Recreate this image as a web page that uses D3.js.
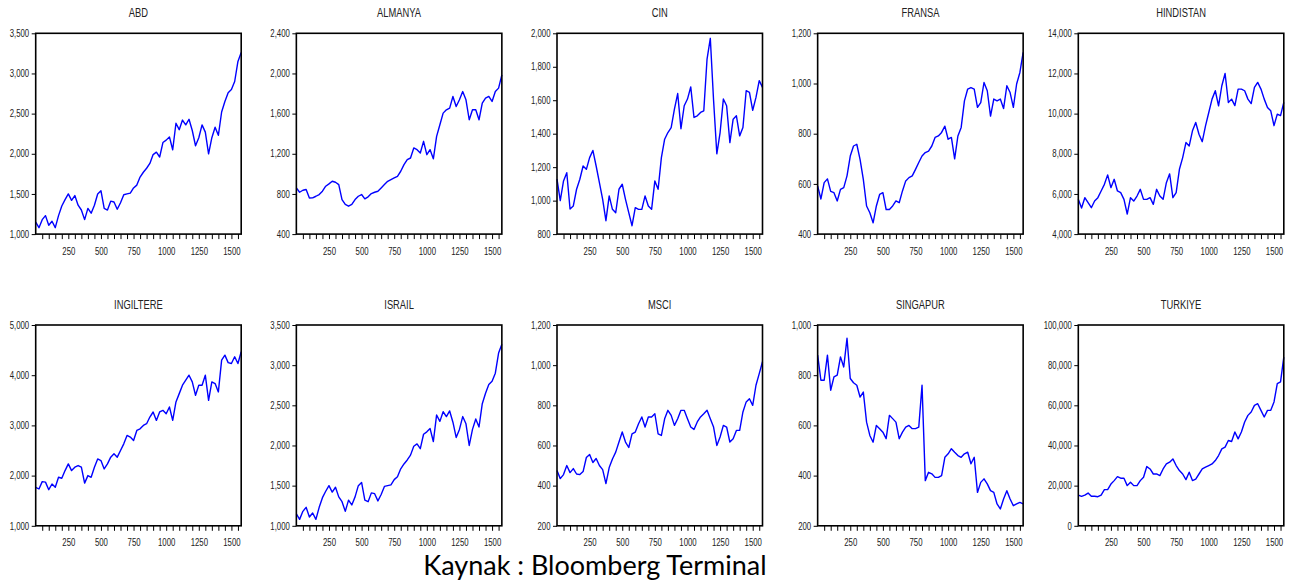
<!DOCTYPE html>
<html>
<head>
<meta charset="utf-8">
<script src="https://cdn.jsdelivr.net/npm/d3@7"></script>
<style>
  body { margin: 0; background: #fff; }
</style>
</head>
<body>
<div id="chart"></div>
<script>
// Readings taken every 25 observations (0, 25, ... 1575)
const step = 25;
const lastObs = 1575;

const abd = [1150, 1080, 1180, 1230, 1110, 1160, 1080, 1230, 1350, 1430,
    1500, 1420, 1480, 1360, 1300, 1180, 1320, 1260, 1360, 1500,
    1540, 1320, 1300, 1410, 1400, 1310, 1390, 1490, 1500, 1510,
    1575, 1610, 1710, 1770, 1820, 1880, 1990, 2020, 1960, 2140,
    2170, 2210, 2050, 2380, 2300, 2420, 2360, 2430, 2290, 2100,
    2200, 2360, 2270, 2000, 2200, 2330, 2230, 2520, 2650, 2760,
    2800, 2900, 3150, 3260];
const almanya = [860, 817, 837, 844, 760, 761, 777, 794, 827, 877,
    900, 926, 916, 893, 744, 695, 678, 695, 744, 777,
    794, 751, 771, 804, 817, 827, 860, 893, 926, 943,
    960, 976, 1026, 1092, 1142, 1158, 1258, 1241, 1208, 1324,
    1191, 1241, 1150, 1373, 1489, 1605, 1638, 1655, 1771, 1671,
    1738, 1820, 1738, 1539, 1638, 1638, 1539, 1705, 1754, 1771,
    1721, 1820, 1854, 1986];
const cin = [1128, 1000, 1118, 1167, 950, 968, 1068, 1128, 1207, 1187,
    1257, 1300, 1207, 1108, 1008, 880, 1028, 948, 928, 1068,
    1098, 1008, 928, 850, 958, 948, 948, 1028, 968, 948,
    1118, 1068, 1257, 1367, 1407, 1437, 1547, 1640, 1430, 1567,
    1607, 1680, 1497, 1507, 1527, 1537, 1846, 1970, 1600, 1280,
    1407, 1607, 1567, 1347, 1487, 1507, 1387, 1437, 1657, 1647,
    1540, 1617, 1717, 1677];
const fransa = [592, 540, 605, 620, 570, 565, 532, 578, 585, 632,
    711, 751, 758, 698, 618, 512, 485, 445, 512, 558,
    565, 498, 498, 512, 532, 525, 572, 612, 625, 632,
    658, 685, 711, 725, 731, 751, 785, 791, 805, 830,
    778, 785, 700, 791, 825, 931, 978, 984, 978, 905,
    924, 1004, 971, 870, 938, 931, 938, 900, 991, 964,
    905, 998, 1044, 1124];
const hindistan = [5730, 5300, 5814, 5564, 5314, 5647, 5814, 6147, 6479, 6950,
    6313, 6729, 6147, 6063, 5730, 5000, 5814, 5647, 5897, 6230,
    5730, 5730, 5814, 5480, 6230, 5897, 5730, 6563, 7000, 5814,
    6063, 7228, 7811, 8559, 8393, 9142, 9558, 8975, 8600, 9391,
    10057, 10722, 11139, 10390, 11388, 12000, 10556, 10722, 10400, 11222,
    11222, 11139, 10722, 10500, 11305, 11555, 11222, 10722, 10307, 10140,
    9400, 9974, 9900, 10556];
const ingiltere = [1767, 1733, 1880, 1870, 1720, 1833, 1767, 1967, 1947, 2100,
    2233, 2100, 2167, 2200, 2167, 1850, 2000, 1967, 2167, 2333,
    2300, 2133, 2233, 2367, 2433, 2367, 2500, 2633, 2800, 2767,
    2700, 2900, 2933, 3000, 3033, 3167, 3267, 3100, 3267, 3300,
    3233, 3367, 3100, 3467, 3633, 3800, 3900, 4000, 3867, 3600,
    3800, 3800, 4000, 3500, 3867, 3833, 3667, 4300, 4400, 4250,
    4233, 4367, 4233, 4467];
const israil = [1150, 1080, 1180, 1230, 1110, 1160, 1080, 1230, 1350, 1430,
    1500, 1420, 1480, 1360, 1300, 1180, 1320, 1260, 1360, 1500,
    1540, 1320, 1300, 1410, 1400, 1310, 1390, 1490, 1500, 1510,
    1575, 1610, 1710, 1770, 1820, 1880, 1990, 2020, 1960, 2140,
    2170, 2210, 2050, 2380, 2300, 2420, 2360, 2430, 2290, 2100,
    2200, 2360, 2270, 2000, 2200, 2330, 2230, 2520, 2650, 2760,
    2800, 2900, 3150, 3260];
const msci = [475, 435, 455, 500, 465, 485, 458, 455, 470, 540,
    555, 515, 535, 500, 480, 410, 490, 533, 567, 617,
    667, 617, 590, 658, 667, 708, 742, 692, 742, 742,
    758, 658, 650, 733, 775, 750, 700, 733, 775, 775,
    733, 692, 680, 717, 742, 758, 775, 733, 692, 600,
    642, 700, 692, 617, 633, 675, 675, 767, 817, 833,
    800, 900, 958, 1017];
const singapur = [880, 780, 780, 880, 740, 793, 800, 873, 833, 947,
    787, 770, 760, 713, 733, 613, 560, 533, 600, 587,
    573, 547, 640, 627, 613, 547, 573, 593, 600, 587,
    587, 593, 760, 380, 413, 407, 393, 393, 400, 473,
    487, 507, 493, 480, 473, 487, 493, 447, 473, 333,
    373, 387, 367, 340, 333, 287, 267, 307, 340, 307,
    280, 287, 293, 287];
const turkiye = [15300, 14700, 15300, 16300, 14700, 14700, 14500, 15300, 18000, 18000,
    20800, 22500, 24500, 23700, 23700, 20000, 21700, 20000, 20000, 22500,
    24200, 29500, 28300, 25800, 25800, 25000, 28300, 30800, 31700, 33300,
    30000, 27500, 25800, 23000, 26700, 22500, 23300, 25800, 28300, 29200,
    30000, 30800, 32500, 35000, 38300, 39200, 42500, 42000, 46700, 43300,
    46700, 51700, 55000, 56700, 60000, 60800, 57500, 54200, 57500, 57500,
    61700, 70800, 71700, 84000];

const titles = ["ABD", "ALMANYA", "CIN", "FRANSA", "HINDISTAN",
    "INGILTERE", "ISRAIL", "MSCI", "SINGAPUR", "TURKIYE"];
const series = [abd, almanya, cin, fransa, hindistan, ingiltere, israil, msci, singapur, turkiye];
const yDomains = [[1000, 3500], [400, 2400], [800, 2000], [400, 1200], [4000, 14000],
    [1000, 5000], [1000, 3500], [200, 1200], [200, 1000], [0, 100000]];
const yTickSteps = [500, 400, 200, 200, 2000, 1000, 500, 200, 200, 20000];
const xLabels = [250, 500, 750, 1000, 1250, 1500];
const caption = "Kaynak : Bloomberg Terminal";

// Dimensions
const width = 1305, height = 583;
const panel = { left: 35.7, colStep: 260.65, w: 205.5, tops: [33.3, 325], h: 200.8 };
const font = '"Liberation Sans", Arial, sans-serif';
const squeeze = 0.78; // the original uses a narrow face

const svg = d3.select('#chart')
    .append('svg')
    .attr('width', width)
    .attr('height', height);

const xScale = d3.scaleLinear().domain([0, lastObs]).range([0, panel.w]);

titles.forEach((title, i) => {
    const col = i % 5, row = Math.floor(i / 5);
    const g = svg.append('g')
        .attr('transform', `translate(${panel.left + col * panel.colStep}, ${panel.tops[row]})`);

    const yScale = d3.scaleLinear().domain(yDomains[i]).range([panel.h, 0]);
    const yTicks = d3.range(yDomains[i][0], yDomains[i][1] + yTickSteps[i] / 2, yTickSteps[i]);

    // Y axis
    g.append('g')
        .call(d3.axisLeft(yScale).tickValues(yTicks).tickSize(4).tickPadding(2.5).tickFormat(d3.format(',')))
        .call(a => a.select('.domain').remove())
        .attr('font-family', font)
        .attr('font-size', 10)
        .call(a => a.selectAll('text')
            .attr('fill', '#222')
            .attr('transform', `translate(-6.5,0) scale(${squeeze},1)`)
            .attr('x', 0));

    // X axis, minor ticks every 50
    g.append('g')
        .attr('transform', `translate(0, ${panel.h})`)
        .call(d3.axisBottom(xScale).tickValues(d3.range(50, lastObs, 50)).tickSize(5).tickPadding(8.5)
            .tickFormat(d => xLabels.includes(d) ? d : ''))
        .call(a => a.select('.domain').remove())
        .attr('font-family', font)
        .attr('font-size', 10)
        .call(a => a.selectAll('text')
            .attr('fill', '#222')
            .attr('transform', `scale(${squeeze},1)`));

    // The series line
    const line = d3.line()
        .x((d, k) => xScale(k * step))
        .y(d => yScale(d));
    g.append('path')
        .datum(series[i])
        .attr('d', line)
        .attr('fill', 'none')
        .attr('stroke', '#0000ff')
        .attr('stroke-width', 1.4)
        .attr('stroke-linejoin', 'round');

    // Frame
    g.append('rect')
        .attr('width', panel.w)
        .attr('height', panel.h)
        .attr('fill', 'none')
        .attr('stroke', '#000')
        .attr('stroke-width', 1.6);

    // Title
    g.append('text')
        .attr('transform', `translate(${panel.w / 2}, -16) scale(${squeeze},1)`)
        .attr('text-anchor', 'middle')
        .style('font-family', font)
        .style('font-size', '12px')
        .attr('fill', '#222')
        .text(title);
});

svg.append('text')
    .attr('x', 595)
    .attr('y', 575)
    .attr('text-anchor', 'middle')
    .style('font-family', 'Lato, "Open Sans", sans-serif')
    .style('font-size', '27px')
    .attr('fill', '#000')
    .text(caption);
</script>
</body>
</html>
